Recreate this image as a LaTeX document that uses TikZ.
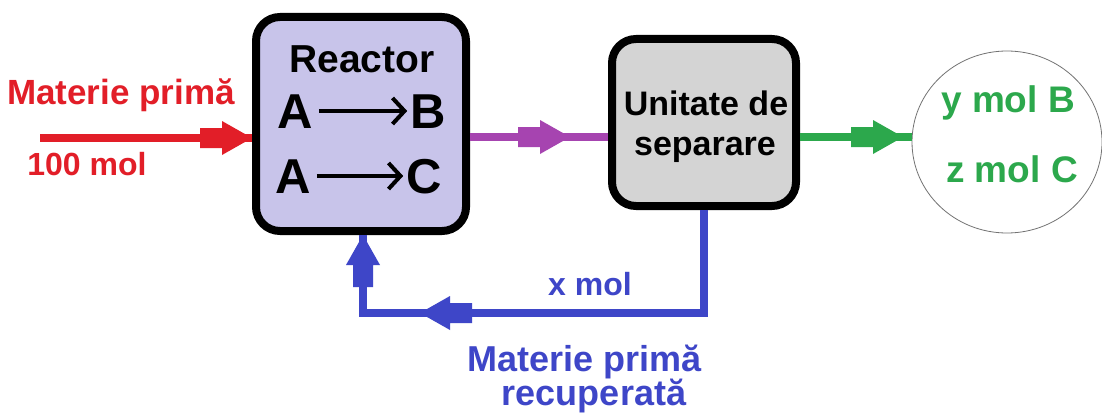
\documentclass[tikz,border=0pt]{standalone}
\usepackage{fontspec}
\setmainfont{Liberation Sans}
\usetikzlibrary{decorations.markings,shapes.geometric,arrows.meta}
\definecolor{cred}{RGB}{226,30,40}
\definecolor{cpurple}{RGB}{166,68,176}
\definecolor{cgreen}{RGB}{44,168,76}
\definecolor{cblue}{RGB}{62,70,200}
\definecolor{creactor}{RGB}{200,196,234}
\definecolor{csep}{RGB}{212,212,212}
\tikzset{
  fatarrow/.style 2 args={postaction={decorate,decoration={markings,
    mark=at position #1 with {\fill[#2] (-52pt,-10pt) -- (-30pt,-10pt) -- (-30pt,-17pt) -- (0pt,0pt) -- (-30pt,17pt) -- (-30pt,10pt) -- (-52pt,10pt) -- cycle;}}}},
  flow/.style={line width=8pt},
  unitbox/.style={draw=black, line width=8pt, rounded corners=24pt, inner sep=0pt},
  lbl/.style={anchor=base, font=\bfseries, inner sep=0pt},
  rxn/.style={line width=4pt, -{Straight Barb[length=12pt,width=26pt,line width=4pt]}},
}
\newcommand{\fs}[1]{\fontsize{#1}{#1}\selectfont}
\begin{document}
\begin{tikzpicture}[x=1pt,y=-1pt]
\useasboundingbox (0,0) rectangle (1102,412);
\fill[white] (0,0) rectangle (1102,412);
% units
\node[unitbox, fill=creactor, minimum width=210pt, minimum height=214pt] (reactor) at (361,124) {};
\node[unitbox, fill=csep, minimum width=184pt, minimum height=167pt] (sep) at (704,122.5) {};
\node[ellipse, draw=black!55, line width=0.8pt, minimum width=190pt, minimum height=182pt, inner sep=0pt] (out) at (1007,142) {};
% texts
\node[lbl, font=\bfseries\fs{39}] (tr) at (362,72) {Reactor};
\node[lbl, font=\bfseries\fs{49}, anchor=base west] (a1) at (277,128) {A};
\node[lbl, font=\bfseries\fs{49}, anchor=base east] (b1) at (446,128) {B};
\node[lbl, font=\bfseries\fs{49}, anchor=base west] (a2) at (275,193) {A};
\node[lbl, font=\bfseries\fs{49}, anchor=base east] (c2) at (442,193) {C};
\draw[rxn] ([xshift=6pt,yshift=17pt]a1.base east) -- ([xshift=-3pt,yshift=17pt]b1.base west);
\draw[rxn] ([xshift=6pt,yshift=17pt]a2.base east) -- ([xshift=-3pt,yshift=17pt]c2.base west);
\node[lbl, font=\bfseries\fs{34}] (ts1) at (706,115) {Unitate de};
\node[lbl, font=\bfseries\fs{34}] (ts2) at (705,155) {separare};
\node[lbl, font=\bfseries\fs{35}, text=cred] (tin1) at (121,104) {Materie primă};
\node[lbl, font=\bfseries\fs{32}, text=cred] (tin2) at (87,175) {100 mol};
\node[lbl, font=\bfseries\fs{37}, text=cgreen] (to1) at (1008,112) {y mol B};
\node[lbl, font=\bfseries\fs{37}, text=cgreen] (to2) at (1012,182) {z mol C};
\node[lbl, font=\bfseries\fs{32}, text=cblue] (tx) at (590,295) {x mol};
\node[lbl, font=\bfseries\fs{36}, text=cblue] (tr1) at (585,371) {Materie primă};
\node[lbl, font=\bfseries\fs{36}, text=cblue] (tr2) at (594,405) {recuperată};
% flows
\coordinate (feed) at (40,138);
\coordinate (pm) at (0,137);
\coordinate (loop) at (363,313);
\draw[flow, cred, fatarrow={1}{cred}] (feed) -- (feed -| reactor.west);
\draw[flow, cpurple, fatarrow={100pt}{cpurple}] (pm -| reactor.east) -- (pm -| sep.west);
\draw[flow, cgreen, fatarrow={103pt}{cgreen}] (pm -| sep.east) -- (pm -| out.west);
\draw[flow, cblue, line join=miter, fatarrow={387pt}{cblue}, fatarrow={1}{cblue}] (sep.south) |- (loop) -- (loop |- reactor.south);
\end{tikzpicture}
\end{document}
